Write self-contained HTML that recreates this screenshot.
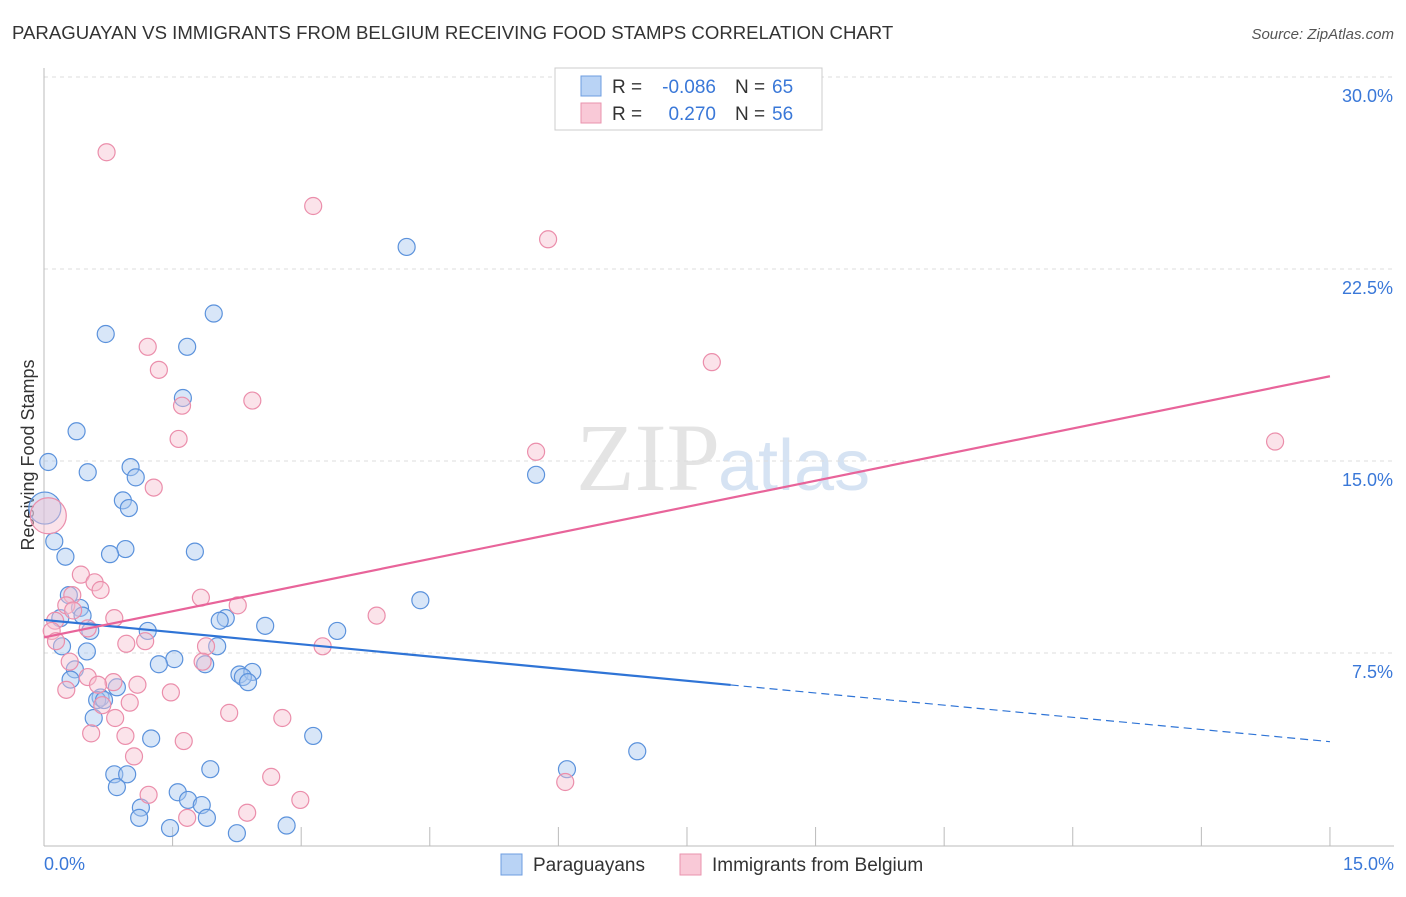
<!DOCTYPE html>
<html><head><meta charset="utf-8"><style>
body{margin:0;background:#fff;font-family:"Liberation Sans",sans-serif}
</style></head><body>
<svg width="1406" height="892" xmlns="http://www.w3.org/2000/svg" id="svg" font-family="Liberation Sans, sans-serif">
<text x="12" y="39" font-size="18.6" fill="#333">PARAGUAYAN VS IMMIGRANTS FROM BELGIUM RECEIVING FOOD STAMPS CORRELATION CHART</text>
<text x="1394" y="39" font-size="15" fill="#555" font-style="italic" text-anchor="end">Source: ZipAtlas.com</text>
<text x="720" y="490" font-size="96" fill="#e4e4e4" font-family="Liberation Serif, serif" text-anchor="end">ZIP</text>
<text x="718" y="490" font-size="72" fill="#d6e3f3">atlas</text>
<g id="grid"></g>
<line x1="44" y1="68" x2="44" y2="846" stroke="#bbb"/>
<line x1="44" y1="846" x2="1394" y2="846" stroke="#bbb"/>
<text x="34" y="455" font-size="18" fill="#333" text-anchor="middle" transform="rotate(-90 34 455)">Receiving Food Stamps</text>
<text x="44" y="870" font-size="18" fill="#3a78d8">0.0%</text>
<text x="1394" y="870" font-size="18" fill="#3a78d8" text-anchor="end">15.0%</text>
<g id="pts"></g>
<g id="lines"></g>
<g>
<rect x="555" y="68" width="267" height="62" fill="#fff" stroke="#ccc"/>
<rect x="581" y="76" width="20" height="20" fill="#b9d3f5" stroke="#6d9de0"/>
<rect x="581" y="103" width="20" height="20" fill="#f9c9d7" stroke="#e993ae"/>
<text x="612" y="93" font-size="19" fill="#333">R =</text>
<text x="716" y="93" font-size="19" fill="#3a78d8" text-anchor="end">-0.086</text>
<text x="735" y="93" font-size="19" fill="#333">N =</text>
<text x="772" y="93" font-size="19" fill="#3a78d8">65</text>
<text x="612" y="120" font-size="19" fill="#333">R =</text>
<text x="716" y="120" font-size="19" fill="#3a78d8" text-anchor="end">0.270</text>
<text x="735" y="120" font-size="19" fill="#333">N =</text>
<text x="772" y="120" font-size="19" fill="#3a78d8">56</text>
</g>
<g>
<rect x="501" y="854" width="21" height="21" fill="#b9d3f5" stroke="#6d9de0"/>
<text x="533" y="871" font-size="19" fill="#333">Paraguayans</text>
<rect x="680" y="854" width="21" height="21" fill="#f9c9d7" stroke="#e993ae"/>
<text x="712" y="871" font-size="19" fill="#333">Immigrants from Belgium</text>
</g>
</svg>
<script>
const yTicks=[7.5,15,22.5,30];
const xTicks=[1.5,3,4.5,6,7.5,9,10.5,12,13.5,15];
const blueX=[0.05,0.38,0.72,1.98,1.67,1.62,4.23,1.01,0.51,1.07,0.92,0.99,0.01,0.12,0.25,0.95,0.77,1.76,5.74,4.39,3.42,2.58,2.12,2.05,0.29,0.42,0.19,0.45,0.54,1.21,0.21,0.5,1.52,1.34,1.88,2.02,2.28,2.43,2.32,2.38,0.36,0.31,0.85,0.66,0.62,0.7,0.58,1.25,3.14,1.94,6.92,6.1,0.82,0.97,0.85,1.56,1.68,1.84,1.13,1.11,1.9,1.47,2.25,2.83];
const blueY=[15.0,16.2,20.0,20.8,19.5,17.5,23.4,14.8,14.6,14.4,13.5,13.2,13.2,11.9,11.3,11.6,11.4,11.5,14.5,9.6,8.4,8.6,8.9,8.8,9.8,9.3,8.9,9.0,8.4,8.4,7.8,7.6,7.3,7.1,7.1,7.8,6.7,6.8,6.6,6.4,6.9,6.5,6.2,5.8,5.7,5.7,5.0,4.2,4.3,3.0,3.7,3.0,2.8,2.8,2.3,2.1,1.8,1.6,1.5,1.1,1.1,0.7,0.5,0.8];
const pinkX=[0.73,3.14,5.88,1.21,1.34,7.79,2.43,1.61,1.57,14.36,5.74,1.28,0.05,0.43,0.59,0.66,0.33,0.26,0.34,1.83,2.26,3.88,0.82,0.13,0.09,0.51,1.18,0.96,0.14,1.89,3.25,0.3,0.51,1.85,0.81,1.09,0.63,0.26,1.48,1.0,0.68,0.83,2.16,2.78,0.95,0.55,1.63,1.05,2.65,6.08,1.22,2.99,2.37,1.67];
const pinkY=[27.1,25.0,23.7,19.5,18.6,18.9,17.4,17.2,15.9,15.8,15.4,14.0,12.9,10.6,10.3,10.0,9.8,9.4,9.2,9.7,9.4,9.0,8.9,8.8,8.4,8.5,8.0,7.9,8.0,7.8,7.8,7.2,6.6,7.2,6.4,6.3,6.3,6.1,6.0,5.6,5.5,5.0,5.2,5.0,4.3,4.4,4.1,3.5,2.7,2.5,2.0,1.8,1.3,1.1];
const sizeBig=[12];
const blueLine=[8.83,-0.317];  // intercept, slope
const pinkLine=[8.15,0.68];
const X=v=>44+v*85.73, Y=v=>846-v*25.6;
const NS='http://www.w3.org/2000/svg';
const grid=document.getElementById('grid');
yTicks.forEach(t=>{
 const l=document.createElementNS(NS,'line');
 l.setAttribute('x1',44);l.setAttribute('x2',1394);l.setAttribute('y1',Y(t)-1);l.setAttribute('y2',Y(t)-1);
 l.setAttribute('stroke','#ddd');l.setAttribute('stroke-dasharray','4,4');
 
 
 grid.appendChild(l);
 const tx=document.createElementNS(NS,'text');
 tx.setAttribute('x',1393);tx.setAttribute('y',Y(t)+24);tx.setAttribute('text-anchor','end');
 tx.setAttribute('font-size','18');tx.setAttribute('fill','#3a78d8');tx.textContent=t.toFixed(1)+'%';
 
 
 grid.appendChild(tx);
});
xTicks.forEach(t=>{
 const l=document.createElementNS(NS,'line');
 l.setAttribute('x1',X(t));l.setAttribute('x2',X(t));l.setAttribute('y1',827);l.setAttribute('y2',846);
 l.setAttribute('stroke','#bbb');
 
 
 grid.appendChild(l);
});
const pts=document.getElementById('pts');
function dot(x,y,r,fill,stroke,name){
 const c=document.createElementNS(NS,'circle');
 c.setAttribute('cx',X(x));c.setAttribute('cy',Y(y));c.setAttribute('r',r);
 c.setAttribute('fill',fill);c.setAttribute('fill-opacity','0.45');c.setAttribute('stroke',stroke);c.setAttribute('stroke-width','1.2');
 
 
 pts.appendChild(c);
}
blueX.forEach((x,i)=>dot(x,blueY[i],i===12?16:8.5,'#a9c8f0','#5b92dc','paraguayan-point'));
pinkX.forEach((x,i)=>dot(x,pinkY[i],sizeBig.includes(i)?18:8.5,'#f7c0d0','#eb8eab','belgium-point'));
const lines=document.getElementById('lines');
function seg(x1,x2,p,color,dash,name){
 const l=document.createElementNS(NS,'line');
 l.setAttribute('x1',X(x1));l.setAttribute('x2',X(x2));
 l.setAttribute('y1',Y(p[0]+p[1]*x1));l.setAttribute('y2',Y(p[0]+p[1]*x2));
 l.setAttribute('stroke',color);l.setAttribute('stroke-width',dash?1.2:2.2);
 if(dash)l.setAttribute('stroke-dasharray','8,5');
 
 
 lines.appendChild(l);
}
seg(0,8.01,blueLine,'#2f74d6',false,'paraguayan-trend-line');
seg(8.01,15,blueLine,'#2f74d6',true,'paraguayan-trend-extension');
seg(0,15,pinkLine,'#e8649a',false,'belgium-trend-line');
</script>
</body></html>
